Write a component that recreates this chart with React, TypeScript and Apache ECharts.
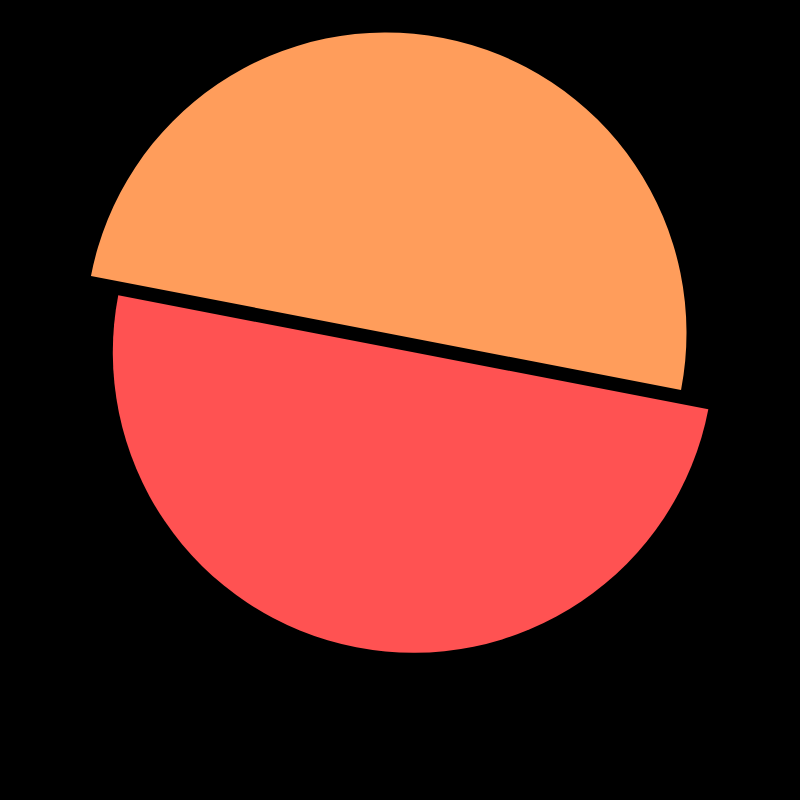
import React, { useEffect, useRef } from "react";
import * as echarts from "echarts";

const categories = ["A", "B"];
const values = [50, 50];
const colors = ["#FF9D5B", "#FF5252"];

export default function App() {
  const ref = useRef<HTMLDivElement>(null);
  useEffect(() => {
    if (!ref.current) return;
    const chart = echarts.init(ref.current, null, { renderer: "svg" });
    const centers = [
      [386, 333],
      [413.3, 352.3],
    ];
    const series = categories.map((_, si) => ({
      type: "pie",
      radius: 300.5,
      center: centers[si],
      startAngle: 169.06,
      clockwise: true,
      silent: true,
      label: { show: false },
      labelLine: { show: false },
      data: categories.map((c, i) => ({
        name: c,
        value: values[i],
        itemStyle: {
          color: colors[i],
          opacity: i === si ? 1 : 0,
          borderWidth: 0,
        },
      })),
    }));
    chart.setOption({
      animation: false,
      backgroundColor: "#000000",
      series,
    });
    return () => chart.dispose();
  }, []);
  return (
    <div
      ref={ref}
      style={{ position: "fixed", left: 0, top: 0, width: 800, height: 800 }}
    />
  );
}
